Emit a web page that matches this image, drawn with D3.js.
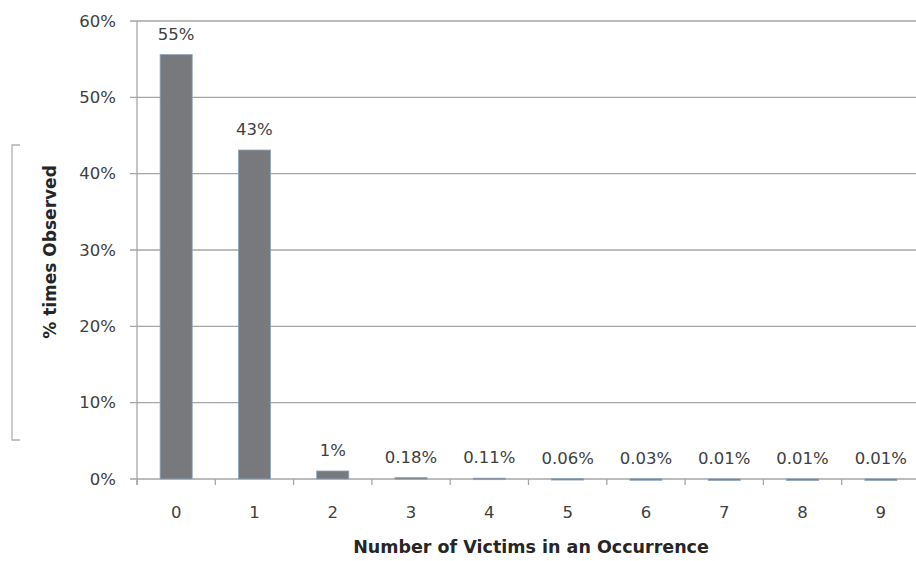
<!DOCTYPE html>
<html><head><meta charset="utf-8">
<script src="https://cdn.jsdelivr.net/npm/d3@7"></script>
<style>body{margin:0;background:#fff}svg{display:block}text{font-family:"DejaVu Sans",sans-serif}</style>
</head><body><svg id="c" width="916" height="561"></svg>
<script>
const categories = ["0","1","2","3","4","5","6","7","8","9"];
const values = [55.6, 43.1, 1.05, 0.18, 0.11, 0.06, 0.03, 0.01, 0.01, 0.01];
const valueLabels = ["55%","43%","1%","0.18%","0.11%","0.06%","0.03%","0.01%","0.01%","0.01%"];
const yTicks = [0,10,20,30,40,50,60];
const xTitle = "Number of Victims in an Occurrence";
const yTitle = "% times Observed";

const svg = d3.select("#c");
const m = {left:137, right:920, top:21, bottom:479};
const x = d3.scaleBand().domain(categories).range([m.left, m.right]).paddingInner(0.59).paddingOuter(0.295);
const y = d3.scaleLinear().domain([0,60]).range([m.bottom, m.top]);

// gridlines
svg.append("g").selectAll("line").data(yTicks).join("line")
  .attr("x1", m.left-7).attr("x2", 916).attr("y1", d=>y(d)).attr("y2", d=>y(d))
  .attr("stroke", "#a6a6a6").attr("stroke-width", 1.3);
// y axis line
svg.append("line").attr("x1", m.left).attr("x2", m.left).attr("y1", m.top).attr("y2", m.bottom+6)
  .attr("stroke", "#a6a6a6").attr("stroke-width", 1.3);
// x tick marks
const step = x.step();
svg.append("g").selectAll("line").data(d3.range(categories.length+1)).join("line")
  .attr("x1", i=>m.left+i*step).attr("x2", i=>m.left+i*step)
  .attr("y1", m.bottom).attr("y2", m.bottom+6)
  .attr("stroke", "#a6a6a6").attr("stroke-width", 1.3);

// y tick labels
svg.append("g").selectAll("text").data(yTicks).join("text")
  .attr("x", 116).attr("y", d=>y(d)).attr("dy","0.35em").attr("text-anchor","end")
  .attr("font-size", 16.5).attr("fill", "#404040").text(d=>d+"%");

// bars
svg.append("g").selectAll("rect").data(values).join("rect")
  .attr("x", (d,i)=>x(categories[i])).attr("width", x.bandwidth())
  .attr("y", d=>y(d)).attr("height", d=>Math.max(1.5, m.bottom-y(d)))
  .attr("fill", "#77797d").attr("stroke", "#8fa6bf").attr("stroke-width", 0.8);

// value labels
svg.append("g").selectAll("text").data(values).join("text")
  .attr("x", (d,i)=>x(categories[i])+x.bandwidth()/2).attr("y", d=>y(d)-15)
  .attr("text-anchor","middle").attr("font-size", 16.5).attr("fill", "#404040")
  .text((d,i)=>valueLabels[i]);

// x tick labels
svg.append("g").selectAll("text").data(categories).join("text")
  .attr("x", d=>x(d)+x.bandwidth()/2).attr("y", 518).attr("text-anchor","middle")
  .attr("font-size", 16.5).attr("fill", "#404040").text(d=>d);

// axis titles
svg.append("text").attr("x", 531).attr("y", 553).attr("text-anchor","middle")
  .attr("font-size", 17.5).attr("font-weight","bold").attr("fill","#262626").text(xTitle);
svg.append("text").attr("transform","translate(56,252) rotate(-90)").attr("text-anchor","middle")
  .attr("font-size", 17).attr("font-weight","bold").attr("fill","#262626").text(yTitle);

// bracket
svg.append("path").attr("d","M20,145H12V440H20").attr("fill","none").attr("stroke","#b0b0b0").attr("stroke-width",1.3);
</script></body></html>
